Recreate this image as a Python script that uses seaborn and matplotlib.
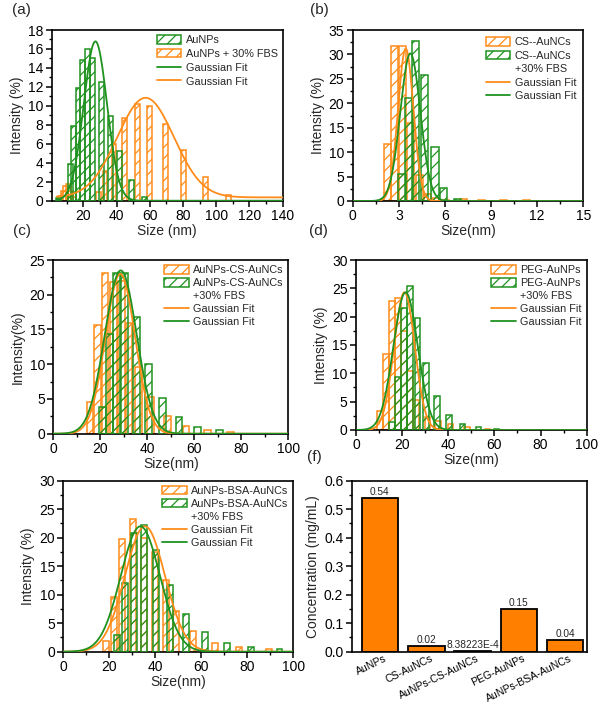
import numpy as np
import pandas as pd
import matplotlib
matplotlib.use("Agg")
import matplotlib.pyplot as plt
import matplotlib.transforms as mtransforms
import seaborn as sns
from matplotlib.patches import Patch
from matplotlib.lines import Line2D
from matplotlib.ticker import MultipleLocator, AutoMinorLocator

# ---------------- data ----------------
# (a) AuNPs / AuNPs + 30% FBS
a_green_x = [4.9, 12.2, 14.2, 16.8, 19.6, 22.6, 25.7, 31.1, 36.5, 41.7, 48.9, 57.0]
a_green_y = [0.3, 3.9, 7.9, 11.9, 14.8, 16.0, 15.1, 12.5, 8.9, 5.2, 2.2, 0.4]
a_orange_x = [6.0, 8.0, 9.5, 11.0, 12.5, 14.0, 29.3, 33.0, 38.5, 45.0, 52.6, 60.0, 69.5, 80.5, 93.5, 107.5]
a_orange_y = [0.5, 1.0, 1.6, 1.8, 1.0, 0.4, 0.9, 3.1, 6.0, 8.7, 10.2, 10.0, 8.1, 5.3, 2.5, 0.6]
a_green_fit = [27.3, 7.0, 16.8, 0.0]     # xc, sigma, amplitude, offset
a_orange_fit = [57.5, 17.0, 10.5, 0.35]

# (b) CS--AuNCs
b_orange_x = [2.25, 2.74, 3.25, 3.75, 4.32, 4.85, 5.4, 6.0, 7.2, 8.4, 9.8, 11.3]
b_orange_y = [11.7, 31.8, 31.8, 16.0, 5.3, 1.5, 0.7, 0.3, 0.4, 0.3, 0.3, 0.2]
b_green_x = [3.2, 3.66, 4.1, 4.68, 5.36, 5.9, 6.8]
b_green_y = [5.5, 21.1, 32.7, 25.8, 11.1, 2.7, 0.4]
b_orange_fit = [3.45, 0.5, 31.2, 0.0]
b_green_fit = [3.75, 0.65, 30.2, 0.0]

# (c) AuNPs-CS-AuNCs
c_orange_x = [15.7, 18.7, 22.0, 25.7, 29.0, 32.3, 36.3, 41.3, 48.5, 56.5, 65.5, 75.5]
c_orange_y = [4.6, 15.6, 23.2, 21.8, 22.0, 16.0, 9.6, 5.3, 2.6, 1.1, 0.6, 0.3]
c_green_x = [21.0, 23.8, 27.0, 30.4, 35.5, 40.4, 46.5, 53.5, 61.3, 70.8]
c_green_y = [3.9, 14.3, 23.1, 23.1, 16.8, 10.1, 5.2, 2.4, 1.0, 0.5]
c_orange_fit = [28.5, 6.3, 23.0, 0.0]
c_green_fit = [28.7, 6.8, 23.5, 0.0]

# (d) PEG-AuNPs
d_orange_x = [10.5, 13.1, 15.7, 18.3, 20.9, 23.5, 26.2, 30.9, 35.5, 40.9, 48.1, 57.0]
d_orange_y = [3.4, 13.4, 22.8, 23.3, 17.4, 10.5, 5.3, 2.3, 1.6, 1.0, 0.5, 0.2]
d_green_x = [15.7, 18.1, 20.7, 23.3, 26.6, 30.3, 35.0, 40.2, 46.1, 53.0, 61.0]
d_green_y = [1.4, 9.4, 21.5, 25.4, 19.7, 11.9, 6.05, 2.65, 1.06, 0.47, 0.15]
d_orange_fit = [21.0, 4.5, 24.3, 0.0]
d_green_fit = [21.5, 5.3, 24.3, 0.0]

# (e) AuNPs-BSA-AuNCs
e_orange_x = [18.4, 21.9, 25.7, 30.3, 35.1, 40.0, 44.5, 48.9, 56.6, 66.0, 76.4, 89.4]
e_orange_y = [1.9, 9.6, 19.8, 23.3, 20.0, 17.5, 12.6, 7.1, 3.7, 1.6, 0.9, 0.4]
e_green_x = [23.4, 26.7, 30.6, 35.0, 40.2, 46.6, 53.3, 61.4, 71.0, 81.7, 94.0]
e_green_y = [3.0, 12.0, 20.9, 22.3, 17.8, 11.7, 6.7, 3.5, 1.6, 0.8, 0.4]
e_orange_fit = [35.5, 8.7, 22.0, 0.0]
e_green_fit = [33.5, 8.5, 22.0, 0.0]

# (f) concentrations
f_categories = ["AuNPs", "CS-AuNCs", "AuNPs-CS-AuNCs", "PEG-AuNPs", "AuNPs-BSA-AuNCs"]
f_values = [0.54, 0.02, 8.38223e-4, 0.15, 0.04]
f_value_labels = ["0.54", "0.02", "8.38223E-4", "0.15", "0.04"]

# ---------------- style ----------------
sns.set_theme(style="ticks")
plt.rcParams['font.family'] = ['Liberation Sans', 'DejaVu Sans']
plt.rcParams['hatch.linewidth'] = 0.9
plt.rcParams['axes.edgecolor'] = 'black'
plt.rcParams['axes.linewidth'] = 1.2
plt.rcParams['xtick.color'] = 'black'
plt.rcParams['ytick.color'] = 'black'

GREEN = '#1F921F'
ORANGE = '#FF8C1A'
BAR_ORANGE = '#FF8000'

fig = plt.figure(figsize=(6.0, 7.09), dpi=100)
fig.patch.set_facecolor('white')


def add_ax(l, r, t, b):
    return fig.add_axes([l / 600, 1 - b / 709, (r - l) / 600, (b - t) / 709])


def gauss(x, p):
    xc, s, a, y0 = p
    return y0 + a * np.exp(-(x - xc) ** 2 / (2 * s ** 2))


def style_axes(ax, xlim, ylim, xmaj, ymaj, xticks_from=None):
    ax.set_xlim(*xlim)
    ax.set_ylim(*ylim)
    if xticks_from is not None:
        ax.set_xticks(np.arange(xticks_from, xlim[1] + 1e-9, xmaj))
    else:
        ax.xaxis.set_major_locator(MultipleLocator(xmaj))
    ax.yaxis.set_major_locator(MultipleLocator(ymaj))
    ax.xaxis.set_minor_locator(AutoMinorLocator(2))
    ax.yaxis.set_minor_locator(AutoMinorLocator(2))
    ax.tick_params(which='major', direction='out', length=4, width=1.1,
                   labelsize=10, pad=2, top=False, right=False)
    ax.tick_params(which='minor', direction='out', length=2.2, width=1.0,
                   top=False, right=False)
    for sp in ax.spines.values():
        sp.set_visible(True)
        sp.set_color('black')
        sp.set_linewidth(1.2)
    ax.set_facecolor('white')


def hist_panel(ax, ox, oy, gx, gy, ofit, gfit, width, xr, entries, spacing=0.28, bpad=0.25):
    ax.bar(ox, oy, width=width, fill=False, edgecolor=ORANGE, hatch='///',
           linewidth=1.1, zorder=2)
    ax.bar(gx, gy, width=width, fill=False, edgecolor=GREEN, hatch='///',
           linewidth=1.1, zorder=3)
    xs = np.linspace(xr[0], xr[1], 600)
    sns.lineplot(x=xs, y=gauss(xs, ofit), ax=ax, color=ORANGE, linewidth=1.3,
                 zorder=4, legend=False)
    sns.lineplot(x=xs, y=gauss(xs, gfit), ax=ax, color=GREEN, linewidth=1.3,
                 zorder=5, legend=False)
    handles, labels = [], []
    for kind, col, lab in entries:
        if kind == 'patch':
            handles.append(Patch(facecolor='none', edgecolor=col, hatch='///', linewidth=1.1))
        elif kind == 'line':
            handles.append(Line2D([], [], color=col, linewidth=1.3))
        else:
            handles.append(Line2D([], [], linewidth=0, color='none'))
        labels.append(lab)
    ax.legend(handles, labels, loc='upper right', frameon=False, fontsize=7.8,
              handlelength=2.3, handleheight=0.85, handletextpad=0.4,
              labelspacing=spacing, borderaxespad=bpad, borderpad=0.2)


# (a)
ax_a = add_ax(51.7, 282.7, 30, 200.7)
hist_panel(ax_a, a_orange_x, a_orange_y, a_green_x, a_green_y, a_orange_fit, a_green_fit,
           2.8, (4, 140),
           [('patch', GREEN, 'AuNPs'), ('patch', ORANGE, 'AuNPs + 30% FBS'),
            ('line', GREEN, 'Gaussian Fit'), ('line', ORANGE, 'Gaussian Fit')],
           spacing=0.35)
style_axes(ax_a, (1, 140), (0, 18), 20, 2, xticks_from=20)
ax_a.set_xlabel('Size (nm)', fontsize=10, labelpad=0.5)
ax_a.set_ylabel('Intensity (%)', fontsize=10, labelpad=3)

# (b)
ax_b = add_ax(352.7, 583.3, 30, 201)
hist_panel(ax_b, b_orange_x, b_orange_y, b_green_x, b_green_y, b_orange_fit, b_green_fit,
           0.47, (0, 15),
           [('patch', ORANGE, 'CS--AuNCs'), ('patch', GREEN, 'CS--AuNCs'),
            ('blank', None, '+30% FBS'),
            ('line', ORANGE, 'Gaussian Fit'), ('line', GREEN, 'Gaussian Fit')],
           spacing=0.32, bpad=0.45)
style_axes(ax_b, (0, 15), (0, 35), 3, 5)
ax_b.set_xlabel('Size(nm)', fontsize=10, labelpad=0.5)
ax_b.set_ylabel('Intensity (%)', fontsize=10, labelpad=3)

# (c)
ax_c = add_ax(53.3, 288.3, 260, 433.7)
hist_panel(ax_c, c_orange_x, c_orange_y, c_green_x, c_green_y, c_orange_fit, c_green_fit,
           2.8, (0, 100),
           [('patch', ORANGE, 'AuNPs-CS-AuNCs'), ('patch', GREEN, 'AuNPs-CS-AuNCs'),
            ('blank', None, '+30% FBS'),
            ('line', ORANGE, 'Gaussian Fit'), ('line', GREEN, 'Gaussian Fit')])
style_axes(ax_c, (0, 100), (0, 25), 20, 5)
ax_c.set_xlabel('Size(nm)', fontsize=10, labelpad=0.5)
ax_c.set_ylabel('Intensity(%)', fontsize=10, labelpad=3)

# (d)
ax_d = add_ax(356, 586.7, 260, 430)
hist_panel(ax_d, d_orange_x, d_orange_y, d_green_x, d_green_y, d_orange_fit, d_green_fit,
           2.4, (0, 100),
           [('patch', ORANGE, 'PEG-AuNPs'), ('patch', GREEN, 'PEG-AuNPs'),
            ('blank', None, '+30% FBS'),
            ('line', ORANGE, 'Gaussian Fit'), ('line', GREEN, 'Gaussian Fit')])
style_axes(ax_d, (0, 100), (0, 30), 20, 5)
ax_d.set_xlabel('Size(nm)', fontsize=10, labelpad=0.5)
ax_d.set_ylabel('Intensity (%)', fontsize=10, labelpad=3)

# (e)
ax_e = add_ax(63.3, 293.3, 480.7, 651.7)
hist_panel(ax_e, e_orange_x, e_orange_y, e_green_x, e_green_y, e_orange_fit, e_green_fit,
           2.6, (0, 100),
           [('patch', ORANGE, 'AuNPs-BSA-AuNCs'), ('patch', GREEN, 'AuNPs-BSA-AuNCs'),
            ('blank', None, '+30% FBS'),
            ('line', ORANGE, 'Gaussian Fit'), ('line', GREEN, 'Gaussian Fit')])
style_axes(ax_e, (0, 100), (0, 30), 20, 5)
ax_e.set_xlabel('Size(nm)', fontsize=10, labelpad=0.5)
ax_e.set_ylabel('Intensity (%)', fontsize=10, labelpad=3)

# (f)
ax_f = add_ax(351.7, 587.3, 480.7, 651.7)
df_f = pd.DataFrame({'cat': f_categories, 'val': f_values})
sns.barplot(data=df_f, x='cat', y='val', ax=ax_f, color=BAR_ORANGE, saturation=1,
            edgecolor='black', linewidth=1.3, width=0.79)
for i, (v, lab) in enumerate(zip(f_values, f_value_labels)):
    ax_f.text(i, v + 0.004, lab, ha='center', va='bottom', fontsize=7.3)
ax_f.set_xlim(-0.61, 4.48)
ax_f.set_ylim(0, 0.6)
ax_f.yaxis.set_major_locator(MultipleLocator(0.1))
ax_f.yaxis.set_minor_locator(AutoMinorLocator(2))
ax_f.yaxis.set_major_formatter(matplotlib.ticker.FormatStrFormatter('%.1f'))
ax_f.tick_params(axis='y', which='major', direction='out', length=4, width=1.1, labelsize=10, pad=2)
ax_f.tick_params(axis='y', which='minor', direction='out', length=2.2, width=1.0)
ax_f.tick_params(axis='x', which='major', direction='out', length=0, labelsize=7.6, pad=1)
shift = mtransforms.ScaledTranslation(8 / 100, 0, fig.dpi_scale_trans)
for t in ax_f.get_xticklabels():
    t.set_rotation(26)
    t.set_ha('right')
    t.set_va('top')
    t.set_transform(t.get_transform() + shift)
for sp in ax_f.spines.values():
    sp.set_visible(True)
    sp.set_color('black')
    sp.set_linewidth(1.2)
ax_f.set_xlabel('')
ax_f.set_ylabel('Concentration (mg/mL)', fontsize=10, labelpad=3)

# panel labels
for lab, x, y in [('(a)', 21, 10), ('(b)', 319, 10), ('(c)', 22, 231),
                  ('(d)', 318, 231), ('(f)', 314, 457)]:
    fig.text(x / 600, 1 - y / 709, lab, ha='center', va='center', fontsize=11)

fig.savefig('out.png', dpi=100, facecolor='white')
